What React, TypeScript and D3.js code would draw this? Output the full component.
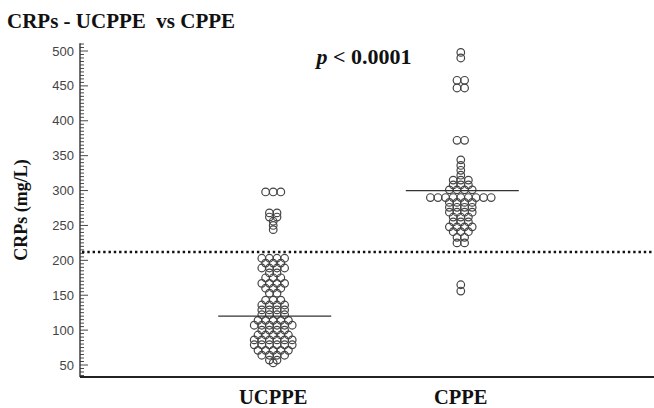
import * as d3 from 'd3';

const categories = ['UCPPE', 'CPPE'];

// CRP values (mg/L), one entry per dot
const ucppeValues = [
  298, 298, 298,
  268, 268, 262, 262, 256, 250, 244,
  203, 203, 203, 203,
  196, 196, 196,
  189, 189, 189, 189,
  182, 182,
  175, 175, 175,
  167, 167, 167, 167,
  160, 160, 160,
  153, 153,
  143, 143, 143,
  136, 136, 136, 136,
  129, 129, 129, 129,
  122, 122, 122, 122,
  114, 114, 114, 114, 114,
  107, 107, 107, 107, 107, 107,
  100, 100, 100, 100,
  93, 93, 93, 93, 93,
  86, 86, 86, 86, 86, 86,
  79, 79, 79, 79, 79, 79,
  71, 71, 71, 71, 71,
  64, 64, 64, 64,
  57, 57,
  53,
];

const cppeValues = [
  498, 490,
  458, 458, 447, 447,
  372, 372,
  344, 336, 329, 322,
  315, 315, 315,
  308, 308, 308,
  301, 301, 301, 301,
  290, 290, 290, 290, 290, 290, 290, 290, 290,
  283, 283, 283, 283,
  276, 276, 276, 276,
  269, 269, 269, 269,
  262, 262, 262,
  255, 255, 255,
  248, 248, 248, 248,
  241, 241, 241,
  233, 233,
  225, 225,
  165, 156,
];

const meanValues = [120, 300];
const cutoffValue = 212;
const yTicks = [50, 100, 150, 200, 250, 300, 350, 400, 450, 500];

const width = 654;
const height = 408;
const axisX = 80;
const axisBottom = 377;

export default function App() {
  const y = d3.scaleLinear().domain([50, 500]).range([365, 51]);
  const x = d3.scalePoint().domain(categories).range([axisX, width]).padding(1.03);
  const minorTicks = d3.range(35, 515, 5);
  const dotStep = 7.6;
  const r = 3.8;

  // lay out dots with equal value side by side in one row
  const layout = (values: number[], cat: string) => {
    const groups = d3.groups(values, (v) => v);
    const pts: { cx: number; cy: number }[] = [];
    groups.forEach(([v, arr]) => {
      arr.forEach((_, i) => {
        pts.push({ cx: x(cat)! + (i - (arr.length - 1) / 2) * dotStep, cy: y(v) });
      });
    });
    return pts;
  };

  const series = [ucppeValues, cppeValues];

  return (
    <svg
      width={width}
      height={height}
      style={{ position: 'absolute', left: 0, top: 0, background: '#fff' }}
    >
      <text x={7} y={28} fontFamily="Liberation Serif" fontWeight="bold" fontSize={21} fill="#111">
        CRPs - UCPPE{'\u00a0'} vs CPPE
      </text>

      <text
        transform={`translate(27,${y(272)}) rotate(-90)`}
        textAnchor="middle"
        fontFamily="Liberation Serif"
        fontWeight="bold"
        fontSize={18}
        fill="#111"
      >
        CRPs (mg/L)
      </text>

      <text x={364} y={64} textAnchor="middle" fontFamily="Liberation Serif" fontWeight="bold" fontSize={22} fill="#111">
        <tspan fontStyle="italic">p</tspan> &lt; 0.0001
      </text>

      {/* y axis */}
      <line x1={axisX} x2={axisX} y1={y(511)} y2={axisBottom} stroke="#222" strokeWidth={1.3} />
      {minorTicks.map((t) => (
        <line
          key={t}
          x1={axisX}
          x2={axisX + (t % 50 === 0 ? 8 : 4)}
          y1={y(t)}
          y2={y(t)}
          stroke="#333"
          strokeWidth={0.9}
        />
      ))}
      {yTicks.map((t) => (
        <text
          key={t}
          x={axisX - 6}
          y={y(t)}
          dy="0.35em"
          textAnchor="end"
          fontFamily="Liberation Sans"
          fontSize={13}
          fill="#444"
        >
          {t}
        </text>
      ))}

      {/* x axis */}
      <line x1={axisX} x2={width} y1={axisBottom} y2={axisBottom} stroke="#222" strokeWidth={2} />
      {categories.map((c) => (
        <text
          key={c}
          x={x(c)}
          y={404}
          textAnchor="middle"
          fontFamily="Liberation Serif"
          fontWeight="bold"
          fontSize={20.5}
          fill="#111"
        >
          {c}
        </text>
      ))}

      {/* cutoff line */}
      <line
        x1={axisX + 2}
        x2={width}
        y1={y(cutoffValue)}
        y2={y(cutoffValue)}
        stroke="#111"
        strokeWidth={2.4}
        strokeDasharray="2.4,2.9"
      />

      {/* dots */}
      {series.map((vals, si) =>
        layout(vals, categories[si]).map((p, i) => (
          <circle key={`${si}-${i}`} cx={p.cx} cy={p.cy} r={r} fill="none" stroke="#444" strokeWidth={1.2} />
        ))
      )}

      {/* mean lines */}
      {meanValues.map((m, i) => (
        <line
          key={i}
          x1={x(categories[i])! - 55}
          x2={x(categories[i])! + 58}
          y1={y(m)}
          y2={y(m)}
          stroke="#333"
          strokeWidth={1.3}
        />
      ))}
    </svg>
  );
}
